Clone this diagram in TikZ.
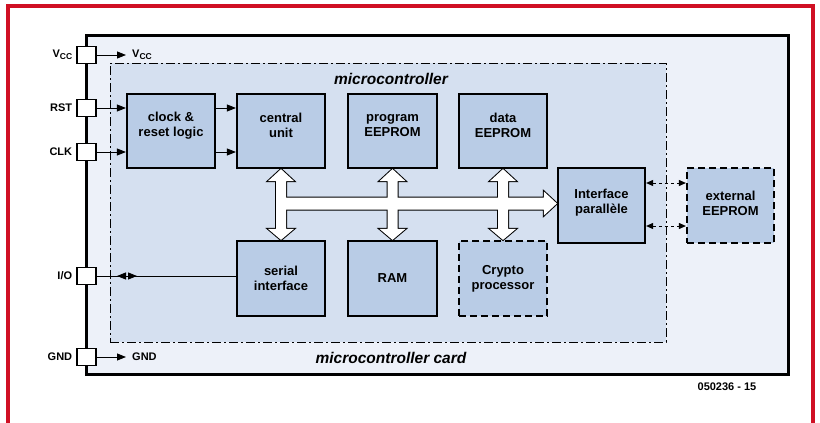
\documentclass[tikz,border=0pt]{standalone}
\usepackage{fontspec}
\setmainfont{Liberation Sans}
\usetikzlibrary{arrows.meta,calc}
\definecolor{framered}{RGB}{208,16,36}
\definecolor{cardfill}{RGB}{237,241,249}
\definecolor{mcfill}{RGB}{213,224,240}
\definecolor{blkfill}{RGB}{185,204,230}
\newcommand\busV[2]{%
 ($(#1.south)+(-5,12)$) -- ($(#1.south)+(-13,12)$) -- (#1.south) --
 ($(#1.south)+(13,12)$) -- ($(#1.south)+(5,12)$) --
 ($(#2.north)+(5,-11)$) -- ($(#2.north)+(13,-11)$) -- (#2.north) --
 ($(#2.north)+(-13,-11)$) -- ($(#2.north)+(-5,-11)$) -- cycle}
\newcommand\busH{%
 ($(busL)+(0,-6)$) -- ($(busR)+(-13,-6)$) -- ($(busR)+(-13,-12)$) -- (busR) --
 ($(busR)+(-13,12)$) -- ($(busR)+(-13,6)$) -- ($(busL)+(0,6)$) -- cycle}
\begin{document}
\begin{tikzpicture}[x=1pt,y=-1pt,
  blk/.style={draw=black, line width=2.2pt, fill=blkfill, minimum width=88pt,
    minimum height=74pt, align=center, inner sep=0pt,
    font=\fontsize{13}{15}\selectfont\bfseries},
  dashblk/.style={blk, dash pattern=on 7pt off 4pt},
  blktext/.style={align=center, inner sep=0pt, font=\fontsize{13}{15}\selectfont\bfseries},
  pinbox/.style={draw=black, line width=1.3pt, fill=white, minimum width=19pt,
    minimum height=17pt, inner sep=0pt},
  pinlbl/.style={font=\fontsize{11}{13}\selectfont\bfseries, inner sep=0pt},
  title/.style={font=\fontsize{15.5}{18}\selectfont\bfseries\itshape, inner sep=0pt},
  sig/.style={line width=0.9pt, -{Triangle[length=9pt,width=7pt]}},
  dsig/.style={line width=0.9pt, dash pattern=on 3pt off 3pt,
    {Triangle[length=7pt,width=6pt]}-{Triangle[length=7pt,width=6pt]}},
  busline/.style={draw=black, line width=2pt, line join=miter},
]
\useasboundingbox (0,0) rectangle (820,423);
\clip (0,0) rectangle (820,423);
\fill[white] (0,0) rectangle (820,423);
\draw[framered, line width=4.5pt] (8,6) rectangle (813,425);

% card and microcontroller regions
\node[draw=black, line width=3pt, fill=cardfill, minimum width=702pt,
  minimum height=339pt, inner sep=0pt] (card) at (437,204.5) {};
\node[draw=black, line width=1pt, fill=mcfill, dash pattern=on 9pt off 3pt on 2pt off 3pt,
  minimum width=556pt, minimum height=279pt, inner sep=0pt] (mc) at (388,202.5) {};

\node[title] (mctitle) at (391,79) {microcontroller};
\node[title] (cardtitle) at (391,358) {microcontroller card};
\node[font=\fontsize{11}{13}\selectfont\bfseries, inner sep=0pt] (ref) at (727,387) {050236 - 15};

% blocks
\node[blk] (clock) at (171,131) {};
\node[blk] (central) at (281,131) {};
\node[blk, minimum width=89pt] (program) at (392.5,131) {};
\node[blk] (data) at (503,131) {};
\node[blk, minimum width=87pt, minimum height=75pt] (iface) at (601.5,205.5) {};
\node[dashblk, minimum width=87pt, minimum height=75pt] (ext) at (730.5,205.5) {};
\node[blk, minimum height=75pt] (serial) at (281,278.5) {serial\\interface};
\node[blk, minimum width=89pt, minimum height=75pt] (ram) at (392.5,278.5) {RAM};
\node[dashblk, minimum height=75pt] (crypto) at (503,278.5) {Crypto\\processor};

\node[blktext] (clockt) at ($(clock)+(0,-5.5)$) {clock \&\\reset logic};
\node[blktext] (centralt) at ($(central)+(0,-5.5)$) {central\\unit};
\node[blktext] (programt) at ($(program)+(0,-5.5)$) {program\\EEPROM};
\node[blktext] (datat) at ($(data)+(0,-5.5)$) {data\\EEPROM};
\node[blktext] (ifacet) at ($(iface)+(0,-2.5)$) {Interface\\parallèle};
\node[blktext] (extt) at ($(ext)+(0,-2.5)$) {external\\EEPROM};

% internal bus
\coordinate (busL) at (281,203.5);
\coordinate (busR) at (iface.west |- busL);
\path[busline] \busV{central}{serial};
\path[busline] \busV{program}{ram};
\path[busline] \busV{data}{crypto};
\path[busline] \busH;
\fill[white] \busV{central}{serial};
\fill[white] \busV{program}{ram};
\fill[white] \busV{data}{crypto};
\fill[white] \busH;

% pins
\node[pinbox] (vcc) at (86.5,55) {};
\node[pinbox] (rst) at (86.5,108) {};
\node[pinbox] (clk) at (86.5,152) {};
\node[pinbox] (io) at (86.5,276) {};
\node[pinbox] (gnd) at (86.5,357) {};

\node[pinlbl, anchor=east] (vccl) at ($(vcc.west)+(-4,0)$) {V\raisebox{-0.35ex}{\fontsize{8.5}{9}\selectfont CC}};
\node[pinlbl, anchor=east] (rstl) at ($(rst.west)+(-4,0)$) {RST};
\node[pinlbl, anchor=east] (clkl) at ($(clk.west)+(-4,0)$) {CLK};
\node[pinlbl, anchor=east] (iol) at ($(io.west)+(-4,0)$) {I/O};
\node[pinlbl, anchor=east] (gndl) at ($(gnd.west)+(-4,0)$) {GND};

% supply arrows
\coordinate (vccend) at (126,55);
\coordinate (gndend) at (126,357);
\draw[sig] (vcc.east) -- (vccend);
\draw[sig] (gnd.east) -- (gndend);
\node[pinlbl, anchor=west] (vccr) at ($(vccend)+(6,0)$) {V\raisebox{-0.35ex}{\fontsize{8.5}{9}\selectfont CC}};
\node[pinlbl, anchor=west] (gndr) at ($(gndend)+(6,0)$) {GND};

% control signals
\draw[sig] (rst.east) -- (rst.east -| clock.west);
\draw[sig] (clk.east) -- (clk.east -| clock.west);
\draw[sig] (clock.east |- rst.east) -- (central.west |- rst.east);
\draw[sig] (clock.east |- clk.east) -- (central.west |- clk.east);

% I/O line with bidirectional marker
\draw[line width=0.9pt] (io.east) -- (serial.west |- io.east);
\coordinate (iom) at (127,276);
\coordinate (iol1) at (117,276);
\coordinate (ior1) at (137,276);
\draw[sig] (iom) -- (iol1);
\draw[sig] (iom) -- (ior1);

% parallel interface to external EEPROM
\coordinate (pa) at (0,183);
\coordinate (pb) at (0,226);
\draw[dsig] (iface.east |- pa) -- (ext.west |- pa);
\draw[dsig] (iface.east |- pb) -- (ext.west |- pb);
\end{tikzpicture}
\end{document}
